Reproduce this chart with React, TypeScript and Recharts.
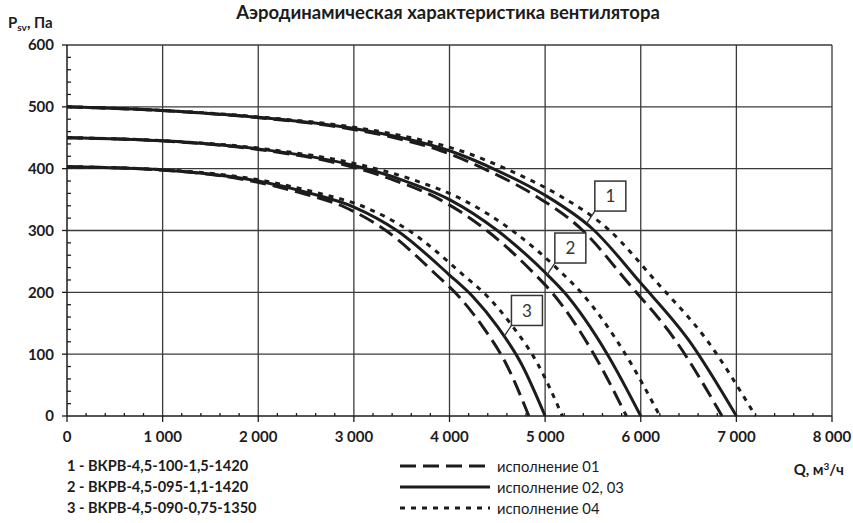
import React from "react";
import { LineChart, Line, XAxis, YAxis, ReferenceLine, ReferenceDot } from "recharts";

// давление, Па (общие для всех исполнений одного вентилятора)
const fan1P = [500, 494, 483, 465, 450, 429, 397, 357, 302, 215, 123, 0];
const fan2P = [450, 445, 432, 405, 382, 350, 300, 232, 200, 100, 0];
const fan3P = [403, 398, 380, 362, 338, 300, 228, 192, 145, 85, 0];

// расход, м3/ч
const fan1Q01 = [0, 980, 1960, 2935, 3425, 3910, 4400, 4890, 5380, 5870, 6360, 6850];
const fan1Q02 = [0, 1000, 2000, 3000, 3500, 4000, 4500, 5000, 5500, 6000, 6500, 7000];
const fan1Q04 = [0, 1030, 2060, 3085, 3600, 4115, 4630, 5145, 5660, 6175, 6690, 7200];

const fan2Q01 = [0, 975, 1950, 2925, 3410, 3900, 4390, 4875, 5070, 5510, 5850];
const fan2Q02 = [0, 1000, 2000, 3000, 3500, 4000, 4500, 5000, 5200, 5650, 6000];
const fan2Q04 = [0, 1035, 2070, 3100, 3620, 4135, 4655, 5170, 5375, 5840, 6200];

const fan3Q01 = [0, 965, 1930, 2415, 2900, 3335, 3865, 4105, 4345, 4590, 4830];
const fan3Q02 = [0, 1000, 2000, 2500, 3000, 3450, 4000, 4250, 4500, 4750, 5000];
const fan3Q04 = [0, 1035, 2070, 2590, 3110, 3575, 4145, 4405, 4660, 4920, 5180];

const xMajor = [0, 1000, 2000, 3000, 4000, 5000, 6000, 7000, 8000];
const yMajor = [0, 100, 200, 300, 400, 500, 600];
const xTicks = Array.from({ length: 41 }, (_, i) => i * 200);
const yTicks = Array.from({ length: 31 }, (_, i) => i * 20);

const callouts = [
  { n: "1", q: 5436, p: 312 },
  { n: "2", q: 5018, p: 228 },
  { n: "3", q: 4564, p: 127 },
];

const models = [
  "1 - ВКРВ-4,5-100-1,5-1420",
  "2 - ВКРВ-4,5-095-1,1-1420",
  "3 - ВКРВ-4,5-090-0,75-1350",
];
const variants = ["исполнение 01", "исполнение 02, 03", "исполнение 04"];

const toRows = (q: number[], p: number[]) => q.map((v, i) => ({ q: v, p: p[i] }));

const DASH = "16 7";
const DOT = "5 6";
const INK = "#1c1c1c";
const FONT = "Lato, 'Open Sans', sans-serif";

const series = [
  { d: toRows(fan1Q01, fan1P), dash: DASH },
  { d: toRows(fan1Q02, fan1P), dash: undefined },
  { d: toRows(fan1Q04, fan1P), dash: DOT },
  { d: toRows(fan2Q01, fan2P), dash: DASH },
  { d: toRows(fan2Q02, fan2P), dash: undefined },
  { d: toRows(fan2Q04, fan2P), dash: DOT },
  { d: toRows(fan3Q01, fan3P), dash: DASH },
  { d: toRows(fan3Q02, fan3P), dash: undefined },
  { d: toRows(fan3Q04, fan3P), dash: DOT },
];

const fmt = (v: number) => (v >= 1000 ? `${Math.floor(v / 1000)} ${String(v % 1000).padStart(3, "0")}` : String(v));

const XTick = (props: any) => {
  const { x, y, payload } = props;
  const v = payload.value;
  const major = v % 1000 === 0;
  return (
    <g>
      <line x1={x} x2={x} y1={y} y2={major ? y + 6 : y - 3} stroke={INK} strokeWidth={1.3} />
      {major && (
        <text x={x} y={y + 26} textAnchor="middle" fontFamily={FONT} fontWeight={700} fontSize={15} fill={INK}>
          {fmt(v)}
        </text>
      )}
    </g>
  );
};

const YTick = (props: any) => {
  const { x, y, payload } = props;
  const v = payload.value;
  const major = v % 100 === 0;
  return (
    <g>
      <line x1={x} x2={major ? x - 5 : x + 4} y1={y} y2={y} stroke={INK} strokeWidth={1.3} />
      {major && (
        <text x={x - 13} y={y} dy="0.36em" textAnchor="end" fontFamily={FONT} fontWeight={700} fontSize={15} fill={INK}>
          {v}
        </text>
      )}
    </g>
  );
};

const Callout = (n: string) => (props: any) => {
  const { cx, cy } = props;
  const bx = cx + 8;
  const by = cy - 12;
  return (
    <g>
      <line x1={cx} y1={cy} x2={bx} y2={by} stroke="#333" strokeWidth={1.3} />
      <rect x={bx} y={by - 30} width={31} height={30} fill="#fff" stroke="#333" strokeWidth={1.5} />
      <text x={bx + 15.5} y={by - 15} dy="0.36em" textAnchor="middle" fontFamily={FONT} fontSize={17} fill="#333">
        {n}
      </text>
    </g>
  );
};

const textStyle: React.CSSProperties = {
  position: "absolute",
  fontFamily: FONT,
  color: INK,
  whiteSpace: "nowrap",
  lineHeight: "16px",
};

export default function App() {
  return (
    <div style={{ position: "absolute", left: 0, top: 0, width: 853, height: 523, background: "#fff" }}>
      <LineChart width={853} height={523} margin={{ top: 45, right: 21, bottom: 77, left: 0 }}>
        <XAxis
          dataKey="q"
          type="number"
          domain={[0, 8000]}
          ticks={xTicks}
          interval={0}
          tickSize={0}
          tickMargin={0}
          tick={XTick}
          height={30}
          allowDuplicatedCategory={false}
          axisLine={{ stroke: INK, strokeWidth: 1.5 }}
        />
        <YAxis
          type="number"
          domain={[0, 600]}
          ticks={yTicks}
          interval={0}
          tickSize={0}
          tickMargin={0}
          tick={YTick}
          width={67}
          axisLine={{ stroke: INK, strokeWidth: 1.5 }}
        />
        {xMajor.slice(1).map((v) => (
          <ReferenceLine key={`x${v}`} x={v} stroke="#3a3a3a" strokeWidth={1.3} />
        ))}
        {yMajor.slice(1).map((v) => (
          <ReferenceLine key={`y${v}`} y={v} stroke="#3a3a3a" strokeWidth={1.3} />
        ))}
        {series.map((s, i) => (
          <Line
            key={i}
            data={s.d}
            dataKey="p"
            type="monotone"
            stroke={INK}
            strokeWidth={3}
            strokeDasharray={s.dash}
            dot={false}
            activeDot={false}
            isAnimationActive={false}
          />
        ))}
        {callouts.map((c) => (
          <ReferenceDot key={c.n} x={c.q} y={c.p} r={1} shape={Callout(c.n)} />
        ))}
      </LineChart>

      <div style={{ ...textStyle, left: 0, width: 896, top: 2, lineHeight: "20px", textAlign: "center", fontWeight: 700, fontSize: 18.5 }}>
        Аэродинамическая характеристика вентилятора
      </div>
      <div style={{ ...textStyle, left: 8, top: 14, fontWeight: 700, fontSize: 15 }}>
        P<sub style={{ fontSize: 10, verticalAlign: "-3px" }}>sv</sub>, Па
      </div>
      <div style={{ ...textStyle, right: 9, top: 458, fontWeight: 700, fontSize: 15 }}>
        Q, м<sup style={{ fontSize: 10, verticalAlign: "5px" }}>3</sup>/ч
      </div>
      {models.map((m, i) => (
        <div key={m} style={{ ...textStyle, left: 67, top: 458 + i * 21, fontWeight: 700, fontSize: 14.6 }}>
          {m}
        </div>
      ))}
      <svg style={{ position: "absolute", left: 0, top: 0 }} width={853} height={523}>
        {[DASH, undefined, DOT].map((d, i) => (
          <line key={i} x1={400} x2={490} y1={466 + i * 21} y2={466 + i * 21} stroke={INK} strokeWidth={3} strokeDasharray={d} />
        ))}
      </svg>
      {variants.map((v, i) => (
        <div key={v} style={{ ...textStyle, left: 497, top: 458 + i * 21, fontSize: 14.8 }}>
          {v}
        </div>
      ))}
    </div>
  );
}
